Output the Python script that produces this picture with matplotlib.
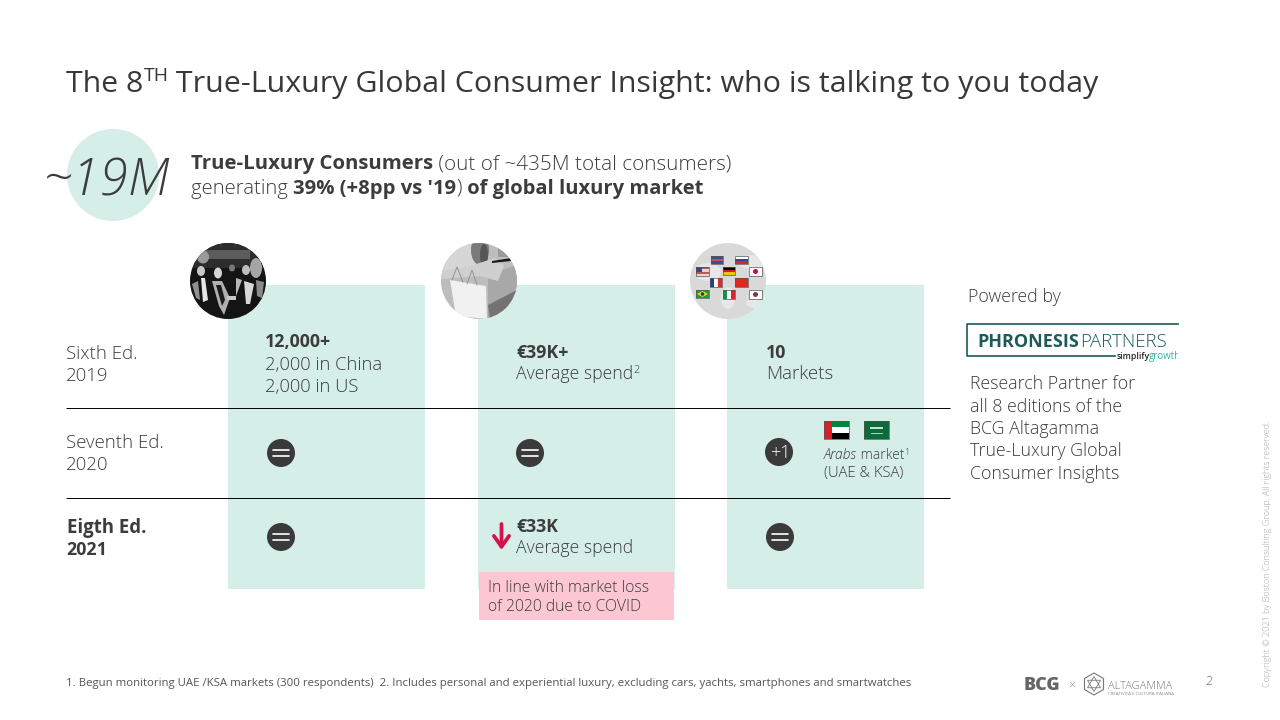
import matplotlib
matplotlib.use('Agg')
import matplotlib.pyplot as plt
from matplotlib.patches import Circle, Rectangle, Ellipse, Polygon, RegularPolygon

plt.rcParams['font.family'] = ['Open Sans', 'DejaVu Sans']

# Texts of the slide
title_parts = ['The 8', 'TH', ' True-Luxury Global Consumer Insight: who is talking to you today']
big_number = '~19M'
row_labels = [('Sixth Ed.', '2019'), ('Seventh Ed.', '2020'), ('Eigth Ed.', '2021')]
col1_lines = ['12,000+', '2,000 in China', '2,000 in US']
powered_by = 'Powered by'
partner_lines = ['Research Partner for', 'all 8 editions of the', 'BCG Altagamma',
                 'True-Luxury Global', 'Consumer Insights']
covid_lines = ['In line with market loss', 'of 2020 due to COVID']
footnote = ('1. Begun monitoring UAE /KSA markets (300 respondents)  2. Includes personal and '
            'experiential luxury, excluding cars, yachts, smartphones and smartwatches')
copyright_text = 'Copyright © 2021 by Boston Consulting Group. All rights reserved.'

# Colours
DARK = '#3c3c3c'
MINT = '#d5eee7'
PINK = '#fcc6d3'
RED = '#d4124e'
ICON = '#3a3a3a'
TEAL = '#1d5a58'

fig = plt.figure(figsize=(12.8, 7.2), dpi=100)
ax = fig.add_axes([0, 0, 1, 1])
ax.set_xlim(0, 1280)
ax.set_ylim(720, 0)
ax.axis('off')


def width(s, **kw):
    # width with the trailing spaces counted
    t = ax.text(0, 0, s + '.', **kw)
    u = ax.text(0, 0, '.', **kw)
    r = fig.canvas.get_renderer()
    w = t.get_window_extent(r).width - u.get_window_extent(r).width
    t.remove()
    u.remove()
    return w


def runs(x, y, parts, color=DARK):
    # mixed styles on one baseline: (text, size, weight, style, raise)
    for s, size, weight, style, up in parts:
        kw = dict(fontsize=size, fontweight=weight, fontstyle=style)
        ax.text(x, y - up, s, color=color, va='baseline', ha='left', **kw)
        x += width(s, **kw)


def equal_icon(x, y):
    ax.add_patch(Circle((x, y), 14, color=ICON, lw=0, zorder=3))
    ax.plot([x - 8, x + 8], [y - 3, y - 3], color='white', lw=1.2, zorder=4, solid_capstyle='round')
    ax.plot([x - 8, x + 8], [y + 3, y + 3], color='white', lw=1.2, zorder=4, solid_capstyle='round')


def flag(x, y, w, h, colors, vertical=False):
    n = len(colors)
    for i, c in enumerate(colors):
        if vertical:
            ax.add_patch(Rectangle((x + i * w / n, y), w / n, h, color=c, lw=0, zorder=5))
        else:
            ax.add_patch(Rectangle((x, y + i * h / n), w, h / n, color=c, lw=0, zorder=5))
    ax.add_patch(Rectangle((x, y), w, h, fill=False, ec='#555555', lw=0.5, zorder=8))


def clipped(shapes, clip, z=4):
    for p in shapes:
        p.set_linewidth(0)
        p.set_zorder(z)
        ax.add_patch(p)
        p.set_clip_path(clip)


# Title
runs(66, 92, [(title_parts[0], 21.8, 'normal', 'normal', 0),
              (title_parts[1], 14, 'normal', 'normal', 11),
              (title_parts[2], 21.85, 'normal', 'normal', 0)], color='#383838')

# Headline number
ax.add_patch(Circle((113, 175), 46, color=MINT, lw=0))
ax.text(107.5, 195, big_number, fontsize=37, fontstyle='italic', fontweight='light',
        color=DARK, ha='center', va='baseline')
runs(191, 169, [('True-Luxury Consumers', 14.7, 'bold', 'normal', 0),
                (' (out of ~435M total consumers)', 14.9, 'light', 'normal', 0)])
runs(191, 194, [('generating ', 14.6, 'light', 'normal', 0),
                ("39% (+8pp vs '19", 14.6, 'bold', 'normal', 0),
                (')', 14.6, 'light', 'normal', 0),
                (' of global luxury market', 14.5, 'bold', 'normal', 0)])

# Columns
for x0 in (228, 478, 727):
    ax.add_patch(Rectangle((x0, 285), 197, 304, color=MINT, lw=0))
ax.add_patch(Rectangle((479, 572), 195, 48, color=PINK, lw=0, zorder=2))

# Row lines
for y in (408, 498):
    ax.plot([66, 950], [y, y], color='black', lw=0.7, zorder=2, solid_capstyle='butt')

# Row labels
for (a, b), y, w, x in zip(row_labels, (359, 448, 533), ('light', 'light', 'bold'), (66, 66, 67)):
    ax.text(x, y, a, fontsize=13.4, fontweight=w, color=DARK, va='baseline')
    ax.text(x - (1 if w == 'bold' else 0), y + 22, b, fontsize=13.4 if w == 'light' else 12.8,
            fontweight=w, color=DARK, va='baseline')

# Column 1
ax.text(265, 347, col1_lines[0], fontsize=12.8, fontweight='bold', color=DARK, va='baseline')
ax.text(265, 370, col1_lines[1], fontsize=13.2, fontweight='light', color=DARK, va='baseline')
ax.text(265, 392, col1_lines[2], fontsize=13.2, fontweight='light', color=DARK, va='baseline')
equal_icon(281, 453)
equal_icon(281, 537)

# Column 2
ax.text(516, 358, '€39K+', fontsize=12.8, fontweight='bold', color=DARK, va='baseline')
runs(516, 379, [('Average spend', 12.7, 'light', 'normal', 0), ('2', 8, 'light', 'normal', 6)])
equal_icon(530, 453)
ax.text(516, 532, '€33K', fontsize=12.8, fontweight='bold', color=DARK, va='baseline')
ax.text(516, 553, 'Average spend', fontsize=12.7, fontweight='light', color=DARK, va='baseline')
ax.annotate('', xy=(501.5, 550), xytext=(501.5, 524),
            arrowprops=dict(arrowstyle='->,head_width=0.42,head_length=0.6', color=RED, lw=2.7,
                            mutation_scale=13, shrinkA=0, shrinkB=0))
for s, y in zip(covid_lines, (592, 611)):
    ax.text(488, y, s, fontsize=11.3, fontweight='light', color=DARK, va='baseline', zorder=3)

# Column 3
ax.text(766, 358, '10', fontsize=12.8, fontweight='bold', color=DARK, va='baseline')
ax.text(766, 379, 'Markets', fontsize=13.4, fontweight='light', color=DARK, va='baseline')
ax.add_patch(Circle((779, 452), 14, color=ICON, lw=0, zorder=3))
ax.text(780, 453, '+1', fontsize=13, fontweight='light', color='white', ha='center', va='center', zorder=4)
equal_icon(780, 537)
runs(824, 459, [('Arabs', 10, 'light', 'italic', 0), (' market', 10, 'light', 'normal', 0),
                ('1', 6.5, 'light', 'normal', 4)])
ax.text(824, 477, '(UAE & KSA)', fontsize=10.7, fontweight='light', color=DARK, va='baseline')
flag(824, 421, 25, 18, ['#00843d', 'white', 'black'])
ax.add_patch(Rectangle((824, 421), 8, 18, color='#d6212a', lw=0, zorder=6))
flag(864, 421, 25, 18, ['#0b6b3a'])
ax.plot([871, 882], [428, 428], color='#cfe5d6', lw=1.4, zorder=6)
ax.plot([871, 882], [433, 433], color='white', lw=0.5, zorder=6)

# Photo 1, crowd in black and white
c1 = Circle((228, 281), 38, color='#141414', lw=0, zorder=3)
ax.add_patch(c1)
clipped([Rectangle((190, 243), 76, 25, color='#2c2c2c'),
         Rectangle((204, 250), 46, 9, color='#5c5c5c'),
         Ellipse((203, 257), 12, 13, color='#9a9a9a'), Ellipse((256, 268), 12, 20, color='#a5a5a5'),
         Ellipse((201, 271), 8, 10, color='#c8c8c8'), Ellipse((218, 273), 8, 11, color='#d5d5d5'),
         Ellipse((246, 270), 8, 10, color='#bdbdbd'), Ellipse((232, 268), 6, 7, color='#777777'),
         Polygon([(201, 278), (205, 278), (208, 300), (203, 302)], color='#e6e6e6'),
         Polygon([(212, 281), (222, 281), (230, 298), (224, 315), (219, 306)], color='#b0b0b0'),
         Polygon([(216, 285), (221, 285), (225, 300), (222, 306)], color='#1c1c1c'),
         Polygon([(192, 284), (198, 281), (200, 300), (196, 298)], color='#8f8f8f'),
         Polygon([(236, 278), (242, 280), (236, 296)], color='#b8b8b8'),
         Polygon([(244, 281), (254, 284), (250, 304), (246, 304)], color='#d8d8d8'),
         Polygon([(256, 280), (264, 282), (262, 298), (257, 296)], color='#8a8a8a'),
         Rectangle((227, 296), 9, 4, color='#c8c8c8')], c1)

# Photo 2, shopping bag
c2 = Circle((479, 281), 38, color='#bdbdbd', lw=0, zorder=3)
ax.add_patch(c2)
clipped([Rectangle((441, 243), 40, 30, color='#d6d6d6'),
         Ellipse((480, 250), 18, 30, color='#7a7a7a'), Ellipse((484, 255), 8, 22, color='#555555'),
         Rectangle((498, 243), 20, 14, color='#9a9a9a'),
         Polygon([(488, 275), (517, 265), (517, 319), (488, 319)], color='#a8a8a8'),
         Polygon([(488, 305), (517, 290), (517, 319), (490, 319)], color='#737373'),
         Polygon([(441, 271), (470, 266), (495, 258), (504, 266), (498, 281), (480, 276), (441, 279)], color='#cfcfcf'),
         Polygon([(492, 261), (511, 258), (511, 261), (492, 263)], color='#191919'),
         Polygon([(450, 280), (486, 286), (487, 319), (456, 316)], color='#f1f1f1')], c2)
for xs, ys in (([452, 457, 463], [280, 267, 282]), ([467, 472, 477], [284, 270, 285])):
    ax.plot(xs, ys, color='#8c8c8c', lw=0.6, zorder=5)

# Photo 3, flags on a map
c3 = Circle((728, 281), 38, color='#d9d9d9', lw=0, zorder=3)
ax.add_patch(c3)
clipped([Ellipse((708, 272), 26, 18, color='#e7e7e7'), Ellipse((752, 262), 30, 14, color='#e7e7e7'),
         Ellipse((728, 298), 14, 22, color='#e7e7e7'), Ellipse((755, 303), 18, 10, color='#e7e7e7')], c3)
flag(711, 256, 12, 8, ['#3f4d8a', '#c2515f', '#3f4d8a'])
flag(735, 256, 13, 8, ['white', '#2a45a8', '#cf2b2b'])
flag(696, 267, 13, 9, ['#b45a5a', '#e8d4d4', '#b45a5a', '#e8d4d4'])
ax.add_patch(Rectangle((696, 267), 6, 4.5, color='#3a4684', lw=0, zorder=6))
flag(723, 267, 12, 8, ['black', '#d01f1f', '#f4c20d'])
flag(749, 267, 13, 9, ['white'])
ax.add_patch(Circle((755.5, 271.5), 2.5, color='#c8102e', lw=0, zorder=6))
flag(710, 278, 12, 9, ['#1f3fa0', 'white', '#e02b2b'], vertical=True)
flag(735, 278, 13, 9, ['#de2a1d'])
flag(696, 290, 13, 8, ['#1d9a44'])
ax.add_patch(Polygon([(697, 294), (702.5, 291), (708, 294), (702.5, 297)], color='#f4d90e', lw=0, zorder=6))
ax.add_patch(Circle((702.5, 294), 1.8, color='#1f3a8a', lw=0, zorder=7))
flag(723, 290, 12, 9, ['#17924a', 'white', '#d8262e'], vertical=True)
flag(749, 290, 13, 9, ['white'])
ax.add_patch(Circle((755.5, 294.5), 2.5, color='#8a3550', lw=0, zorder=6))

# Right panel
ax.text(968, 302, powered_by, fontsize=12.8, fontweight='light', color=DARK, va='baseline')
ax.plot([1178, 967, 967, 1115], [324, 324, 356, 356], color=TEAL, lw=1.2)
ax.text(977, 347, 'PHRONESIS', fontsize=13, fontweight='bold', color=TEAL, va='baseline')
ax.text(1080, 347, 'PARTNERS', fontsize=13.4, fontweight='light', color=TEAL, va='baseline')
ax.text(1117, 359, 'simplify', fontsize=6.2, fontweight='semibold', color='#222222', va='baseline')
g = ax.text(1148.5, 359, 'growth', fontsize=7, color='#2fb5a5', va='baseline')
g.set_clip_path(Rectangle((1100, 340), 78, 30, transform=ax.transData))
g.set_clip_on(True)
for i, s in enumerate(partner_lines):
    ax.text(970, 389 + i * 22.5, s, fontsize=12.8, fontweight='light', color=DARK, va='baseline')

# Footer
ax.text(66, 686, footnote, fontsize=8.2, color='#555555', va='baseline')
ax.text(1024, 690, 'BCG', fontsize=13, fontweight='heavy', color='#666666', va='baseline')
ax.text(1072, 689, '×', fontsize=9, fontweight='light', color='#888888', ha='center', va='baseline')
ax.add_patch(RegularPolygon((1094, 684), 6, radius=11, fill=False, ec='#777777', lw=0.8))
ax.add_patch(RegularPolygon((1094, 684), 3, radius=7.5, fill=False, ec='#777777', lw=0.6))
ax.add_patch(RegularPolygon((1094, 684), 3, radius=7.5, orientation=3.1416, fill=False, ec='#777777', lw=0.6))
ax.text(1108, 689, 'ALTAGAMMA', fontsize=8, fontweight='light', color='#777777', va='baseline')
ax.text(1108, 695, 'CREATIVITÀ E CULTURA ITALIANA', fontsize=3.2, color='#888888', va='baseline')
ax.text(1205, 685, '2', fontsize=9, fontweight='light', color='#666666', va='baseline')
ax.text(1267, 687, copyright_text, fontsize=6.5, fontweight='light', color='#a8a8a8', rotation=90,
        ha='center', va='bottom')

fig.savefig('out.png', dpi=100)
